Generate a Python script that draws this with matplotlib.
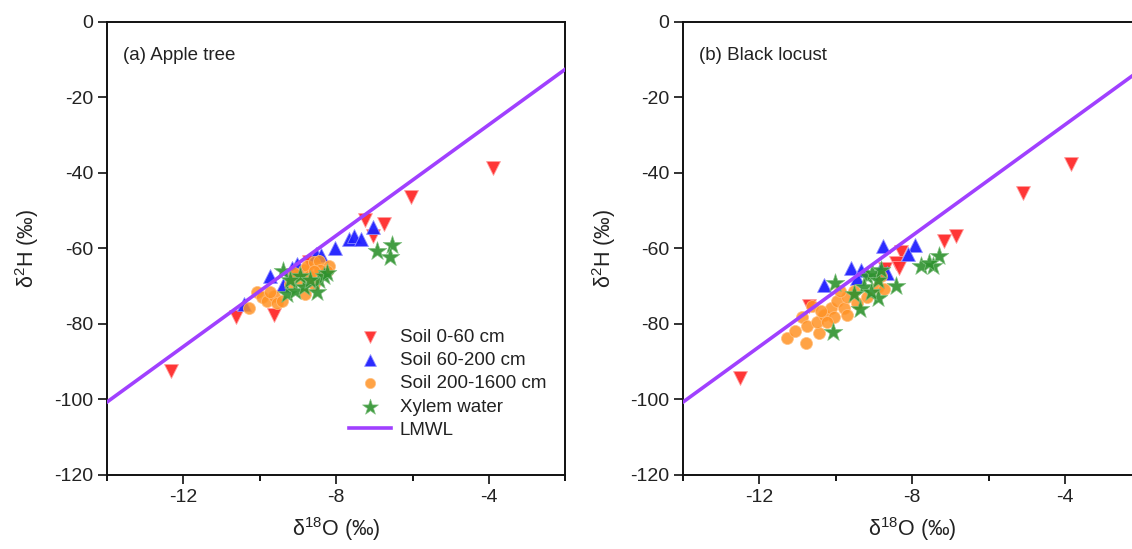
import matplotlib
matplotlib.use("Agg")
import numpy as np
import matplotlib.pyplot as plt
from matplotlib.ticker import MultipleLocator

plt.rcParams['font.family'] = ['Liberation Sans', 'DejaVu Sans']
plt.rcParams['mathtext.fontset'] = 'custom'
plt.rcParams['mathtext.rm'] = 'Liberation Sans'
plt.rcParams['mathtext.it'] = 'Liberation Sans:italic'
plt.rcParams['axes.unicode_minus'] = False

# (a) Apple tree
a_soil1_x = [-12.32, -10.63, -9.64, -7.24, -6.76, -7.03, -6.04, -3.90, -8.72]
a_soil1_y = [-92.6, -78.1, -77.7, -52.4, -53.5, -56.7, -46.5, -38.6, -63.7]
a_soil2_x = [-10.41, -9.73, -9.40, -9.16, -9.03, -8.52, -8.40, -8.02, -7.67, -7.54, -7.34, -7.03]
a_soil2_y = [-74.7, -67.3, -69.8, -65.1, -64.2, -61.4, -61.7, -59.8, -57.5, -56.7, -57.5, -54.2]
a_soil3_x = [-10.28, -10.08, -9.95, -9.81, -9.64, -9.55, -9.42, -9.73, -8.85, -8.77, -8.59, -8.46,
             -8.20, -8.24, -8.94, -8.72, -9.03, -8.81, -8.59, -8.42, -9.20, -9.11, -8.59]
a_soil3_y = [-75.8, -71.6, -73.0, -74.0, -72.6, -74.4, -74.0, -71.6, -65.6, -64.7, -63.7, -63.3,
             -64.7, -66.0, -68.4, -67.4, -67.0, -72.1, -69.3, -65.6, -69.3, -66.5, -66.0]
a_xylem_x = [-6.93, -6.55, -6.60, -9.40, -9.29, -9.07, -8.85, -8.50, -8.46, -8.33, -8.24, -8.94,
             -8.68, -9.20]
a_xylem_y = [-60.7, -59.1, -62.3, -65.9, -72.1, -71.2, -70.2, -71.6, -68.4, -67.4, -66.5, -67.4,
             -68.4, -68.4]

# (b) Black locust
b_soil1_x = [-12.52, -3.84, -5.09, -6.86, -7.17, -8.30, -8.43, -8.35, -8.72, -10.71]
b_soil1_y = [-94.2, -37.7, -45.3, -56.7, -58.0, -60.9, -63.9, -65.1, -65.4, -75.3]
b_soil2_x = [-10.30, -9.61, -9.35, -9.44, -8.76, -7.93, -8.11, -8.84, -8.65]
b_soil2_y = [-69.8, -65.1, -65.6, -67.9, -59.3, -59.1, -61.4, -65.6, -66.5]
b_soil3_x = [-11.29, -11.06, -10.77, -10.44, -10.88, -10.62, -10.75, -10.49, -10.31, -10.14, -9.96,
             -9.79, -9.70, -9.53, -10.05, -10.23, -9.70, -9.44, -9.18, -8.91, -8.74, -8.83, -9.88,
             -10.40]
b_soil3_y = [-83.7, -81.9, -85.1, -82.3, -78.1, -75.3, -80.5, -79.5, -77.7, -75.8, -74.0,
             -75.8, -73.0, -71.2, -78.1, -79.5, -77.7, -74.4, -73.0, -70.2, -70.7, -67.4, -71.2,
             -76.7]
b_xylem_x = [-10.07, -10.03, -9.37, -8.91, -8.43, -7.78, -7.45, -7.30, -7.56, -9.18, -9.05, -8.91,
             -9.26, -8.83, -9.09, -9.53]
b_xylem_y = [-82.1, -69.1, -76.0, -73.2, -70.0, -64.7, -64.7, -61.9, -63.8, -67.4, -66.5, -68.4,
             -70.2, -65.6, -71.6, -72.1]

# local meteoric water line
lmwl_slope = 7.35
lmwl_intercept = 2.2

panels = [
    ("(a) Apple tree", a_soil1_x, a_soil1_y, a_soil2_x, a_soil2_y, a_soil3_x, a_soil3_y, a_xylem_x, a_xylem_y),
    ("(b) Black locust", b_soil1_x, b_soil1_y, b_soil2_x, b_soil2_y, b_soil3_x, b_soil3_y, b_xylem_x, b_xylem_y),
]

fig = plt.figure(figsize=(11.32, 5.49), dpi=100)
ax_a = fig.add_axes([0.0945, 0.135, 0.405, 0.825])
ax_b = fig.add_axes([0.6034, 0.135, 0.405, 0.825])

for ax, p in zip([ax_a, ax_b], panels):
    title, s1x, s1y, s2x, s2y, s3x, s3y, xx, xy = p
    ax.scatter(s1x, s1y, marker='v', s=100, color='#ff2b2b', edgecolors='#ff9a9a', linewidths=0.6,
               alpha=0.95, label='Soil 0-60 cm', zorder=3)
    ax.scatter(s2x, s2y, marker='^', s=100, color='#1f1fff', edgecolors='#8f8fff', linewidths=0.6,
               alpha=0.95, label='Soil 60-200 cm', zorder=3)
    ax.scatter(s3x, s3y, marker='o', s=75, color='#ff9326', edgecolors='#ffc080', linewidths=0.6,
               alpha=0.85, label='Soil 200-1600 cm', zorder=4)
    ax.scatter(xx, xy, marker='*', s=200, color='#2e922e', edgecolors='#7fbf7f', linewidths=0.5,
               alpha=0.9, label='Xylem water', zorder=5)
    lx = np.array([-14, -2])
    ax.plot(lx, lmwl_slope * lx + lmwl_intercept, color='#a040ff', lw=2.6, label='LMWL', zorder=6)

    ax.set_xlim(-14, -2)
    ax.set_ylim(-120, 0)
    ax.xaxis.set_minor_locator(MultipleLocator(2))
    ax.set_xticks([-12, -8, -4])
    ax.yaxis.set_major_locator(MultipleLocator(20))
    ax.tick_params(axis='both', which='major', direction='out', length=6.5, width=1.3,
                   labelsize=14, top=False, right=False, colors='#222222')
    ax.tick_params(axis='x', which='minor', direction='out', length=4, width=1.3, top=False)
    for sp in ax.spines.values():
        sp.set_linewidth(1.4)
        sp.set_color('#111111')
    ax.set_xlabel('δ$^{18}$O (‰)', fontsize=15.5, labelpad=7, color='#222222')
    ax.set_ylabel('δ$^{2}$H (‰)', fontsize=15.5, labelpad=9, color='#222222')
    ax.text(0.035, 0.927, title, transform=ax.transAxes, fontsize=13.5, color='#222222', va='center')

ax_a.legend(loc='upper left', bbox_to_anchor=(0.5, 0.352), frameon=False, fontsize=13.5,
            handlelength=2.2, handletextpad=0.5, labelspacing=0.33, borderpad=0.2,
            labelcolor='#222222', markerscale=0.85)

fig.savefig('out.png', dpi=100)
